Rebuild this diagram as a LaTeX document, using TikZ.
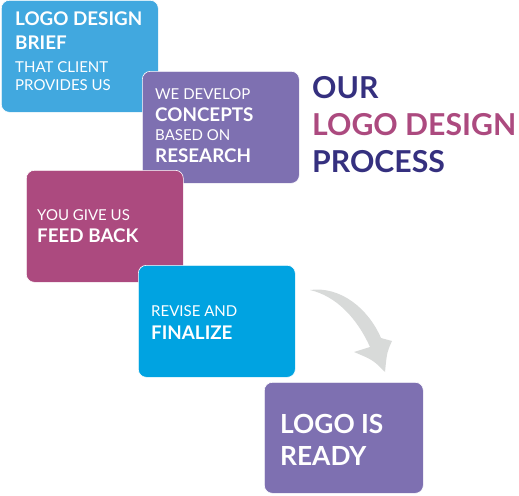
\documentclass[tikz,border=0pt]{standalone}
\usepackage{fontspec}
\setmainfont{Lato}
\usetikzlibrary{positioning}

\definecolor{briefblue}{HTML}{41A8DF}
\definecolor{stepviolet}{HTML}{7E70B1}
\definecolor{stepplum}{HTML}{AC4A7F}
\definecolor{stepcyan}{HTML}{00A3E1}
\definecolor{titleblue}{HTML}{35307F}
\definecolor{swoosh}{HTML}{D8DAD9}

\begin{document}
\begin{tikzpicture}[x=1pt, y=-1pt,
    stepbox/.style={rounded corners=8pt, minimum width=157pt, minimum height=112pt,
        anchor=north west, inner sep=0pt, draw=white, line width=0.6pt},
    big/.style={anchor=base west, inner sep=0pt, text=white,
        font=\fontsize{18.8}{22}\selectfont\bfseries},
    small/.style={anchor=base west, inner sep=0pt, text=white,
        font=\fontsize{15}{18}\selectfont},
    headline/.style={anchor=base west, inner sep=0pt, text=titleblue,
        font=\fontsize{30.2}{36}\selectfont\bfseries}]
    \useasboundingbox (0,0) rectangle (519,495);

    % Step boxes, later ones on top
    \node[stepbox, fill=briefblue] (brief) at (1,0) {};
    \node[stepbox, fill=stepviolet] (concepts) at (142,71) {};
    \node[stepbox, fill=stepplum] (feedback) at (26,170) {};
    \node[stepbox, fill=stepcyan] (finalize) at (138,265) {};
    \node[stepbox, fill=stepviolet, minimum width=159pt, minimum height=111pt] (ready) at (264,382) {};

    % Box texts
    \node[big] (brief-1) at ([shift={(14,26)}]brief.north west) {LOGO DESIGN};
    \node[big] (brief-2) at ([shift={(14,49)}]brief.north west) {BRIEF};
    \node[small] (brief-3) at ([shift={(14,72)}]brief.north west) {THAT CLIENT};
    \node[small] (brief-4) at ([shift={(14,90)}]brief.north west) {PROVIDES US};

    \node[small] (concepts-1) at ([shift={(13,28)}]concepts.north west) {WE DEVELOP};
    \node[big] (concepts-2) at ([shift={(13,50)}]concepts.north west) {CONCEPTS};
    \node[small] (concepts-3) at ([shift={(13,69)}]concepts.north west) {BASED ON};
    \node[big] (concepts-4) at ([shift={(13,91)}]concepts.north west) {RESEARCH};

    \node[small] (feedback-1) at ([shift={(11,50)}]feedback.north west) {YOU GIVE US};
    \node[big] (feedback-2) at ([shift={(11,72)}]feedback.north west) {FEED BACK};

    \node[small] (finalize-1) at ([shift={(13,51)}]finalize.north west) {REVISE AND};
    \node[big] (finalize-2) at ([shift={(13,74)}]finalize.north west) {FINALIZE};

    \node[big, font=\fontsize{26.3}{32}\selectfont\bfseries] (ready-1) at ([shift={(16,51)}]ready.north west) {LOGO IS};
    \node[big, font=\fontsize{26.3}{32}\selectfont\bfseries] (ready-2) at ([shift={(16,83)}]ready.north west) {READY};

    % Title
    \node[headline] (title-1) at (312,98) {OUR};
    \node[headline, text=stepplum] (title-2) at (312,135) {LOGO DESIGN};
    \node[headline] (title-3) at (312,172) {PROCESS};

    % Curved swoosh arrow towards the last step
    \fill[swoosh] (310,290) .. controls (340,286) and (368,308) .. (381,338)
        -- (392,341) .. controls (387,352) .. (385,372)
        .. controls (373,360) .. (354,352)
        .. controls (362,350) .. (370,347)
        .. controls (357,318) and (336,296) .. (310,290) -- cycle;
\end{tikzpicture}
\end{document}
